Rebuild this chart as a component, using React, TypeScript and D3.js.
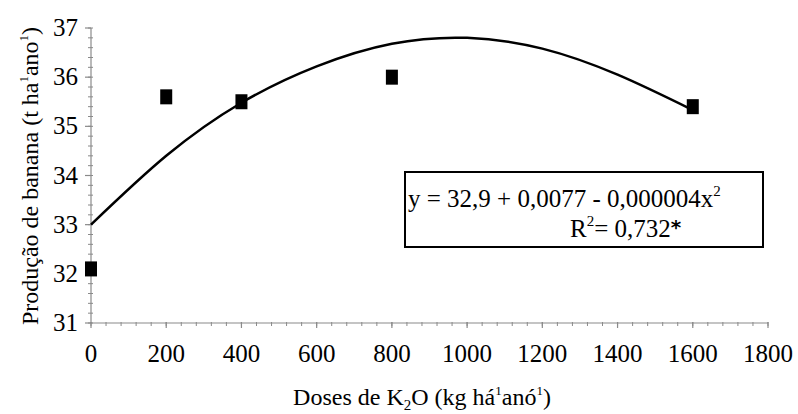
import * as d3 from "d3";
import { useEffect, useRef } from "react";

const doses = [0, 200, 400, 800, 1600];
const producao = [32.1, 35.6, 35.5, 36.0, 35.4];

// fitted curve
const curvaX = [0, 200, 400, 600, 800, 1000, 1200, 1400, 1600];
const curvaY = [33.0, 34.4, 35.48, 36.22, 36.68, 36.8, 36.58, 36.05, 35.33];

const xTicks = [0, 200, 400, 600, 800, 1000, 1200, 1400, 1600, 1800];
const yTicks = [31, 32, 33, 34, 35, 36, 37];

const FONT = "Liberation Serif, Tinos, DejaVu Serif, serif";

export default function App() {
  const svgRef = useRef(null);

  useEffect(() => {
    const svg = d3.select(svgRef.current);
    svg.selectAll("*").remove();
    svg.style("font-family", FONT);

    const x = d3.scaleLinear().domain([0, 1800]).range([91, 768]);
    const y = d3.scaleLinear().domain([31, 37]).range([323, 28]);
    const axisColor = "#8a8a8a";

    // y axis
    svg.append("line")
      .attr("x1", x(0)).attr("x2", x(0))
      .attr("y1", y(31)).attr("y2", y(37))
      .attr("stroke", axisColor).attr("stroke-width", 1.2);
    svg.selectAll(".ymin")
      .data(d3.range(31, 37.001, 0.2))
      .enter().append("line")
      .attr("x1", x(0) - 3).attr("x2", x(0) + 2)
      .attr("y1", (d) => y(d)).attr("y2", (d) => y(d))
      .attr("stroke", axisColor);
    svg.selectAll(".ymaj")
      .data(yTicks)
      .enter().append("line")
      .attr("x1", x(0) - 6).attr("x2", x(0))
      .attr("y1", (d) => y(d)).attr("y2", (d) => y(d))
      .attr("stroke", axisColor).attr("stroke-width", 1.2);
    svg.selectAll(".ylab")
      .data(yTicks)
      .enter().append("text")
      .attr("x", 78).attr("y", (d) => y(d) + 8)
      .attr("text-anchor", "end")
      .attr("font-size", 25)
      .text((d) => d);

    // x axis
    svg.append("line")
      .attr("x1", x(0)).attr("x2", x(1800))
      .attr("y1", y(31)).attr("y2", y(31))
      .attr("stroke", axisColor).attr("stroke-width", 1.2);
    svg.selectAll(".xmin")
      .data(d3.range(0, 1801, 40))
      .enter().append("line")
      .attr("x1", (d) => x(d)).attr("x2", (d) => x(d))
      .attr("y1", y(31) - 1).attr("y2", y(31) + 3)
      .attr("stroke", axisColor);
    svg.selectAll(".xmaj")
      .data(xTicks)
      .enter().append("line")
      .attr("x1", (d) => x(d)).attr("x2", (d) => x(d))
      .attr("y1", y(31) - 1).attr("y2", y(31) + 5)
      .attr("stroke", axisColor).attr("stroke-width", 1.2);
    svg.selectAll(".xlab")
      .data(xTicks)
      .enter().append("text")
      .attr("x", (d) => x(d)).attr("y", 362)
      .attr("text-anchor", "middle")
      .attr("font-size", 25)
      .text((d) => d);

    // axis titles
    const xt = svg.append("text")
      .attr("x", 422).attr("y", 405)
      .attr("text-anchor", "middle")
      .attr("font-size", 24);
    xt.append("tspan").text("Doses de K");
    xt.append("tspan").attr("font-size", 15).attr("dy", 5).text("2");
    xt.append("tspan").attr("dy", -5).text("O (kg há");
    xt.append("tspan").attr("font-size", 13).attr("dy", -10).text("1");
    xt.append("tspan").attr("dy", 10).text("anó");
    xt.append("tspan").attr("font-size", 13).attr("dy", -10).text("1");
    xt.append("tspan").attr("dy", 10).text(")");

    const yt = svg.append("text")
      .attr("transform", "translate(38,176) rotate(-90)")
      .attr("text-anchor", "middle")
      .attr("font-size", 24);
    yt.append("tspan").text("Produção de banana (t ha");
    yt.append("tspan").attr("font-size", 13).attr("dy", -10).text("1");
    yt.append("tspan").attr("dy", 10).text("ano");
    yt.append("tspan").attr("font-size", 13).attr("dy", -10).text("1");
    yt.append("tspan").attr("dy", 10).text(")");

    // fitted curve
    const line = d3.line()
      .x((d) => x(d[0]))
      .y((d) => y(d[1]))
      .curve(d3.curveNatural);
    svg.append("path")
      .datum(d3.zip(curvaX, curvaY))
      .attr("fill", "none")
      .attr("stroke", "#000")
      .attr("stroke-width", 2.5)
      .attr("d", line);

    // observed points
    svg.selectAll(".pt")
      .data(d3.zip(doses, producao))
      .enter().append("rect")
      .attr("x", (d) => x(d[0]) - 6)
      .attr("y", (d) => y(d[1]) - 7.5)
      .attr("width", 12).attr("height", 15)
      .attr("fill", "#000");

    // equation box
    svg.append("rect")
      .attr("x", 405).attr("y", 172)
      .attr("width", 358).attr("height", 75)
      .attr("fill", "#fff")
      .attr("stroke", "#000").attr("stroke-width", 2);
    const eq = svg.append("text")
      .attr("x", 408).attr("y", 207)
      .attr("font-size", 25);
    eq.append("tspan").text("y = 32,9 + 0,0077 - 0,000004x");
    eq.append("tspan").attr("font-size", 15).attr("dy", -11).text("2");
    const r2 = svg.append("text")
      .attr("x", 570).attr("y", 237)
      .attr("font-size", 25);
    r2.append("tspan").text("R");
    r2.append("tspan").attr("font-size", 15).attr("dy", -11).text("2");
    r2.append("tspan").attr("dy", 11).text("= 0,732");
    r2.append("tspan").attr("font-family", "DejaVu Sans, sans-serif").attr("font-weight", "bold").attr("font-size", 20).attr("dy", -3).text("*");
  }, []);

  return (
    <div style={{ position: "fixed", left: 0, top: 0 }}>
      <svg ref={svgRef} width={798} height={414} style={{ display: "block", background: "#fff" }}></svg>
    </div>
  );
}
